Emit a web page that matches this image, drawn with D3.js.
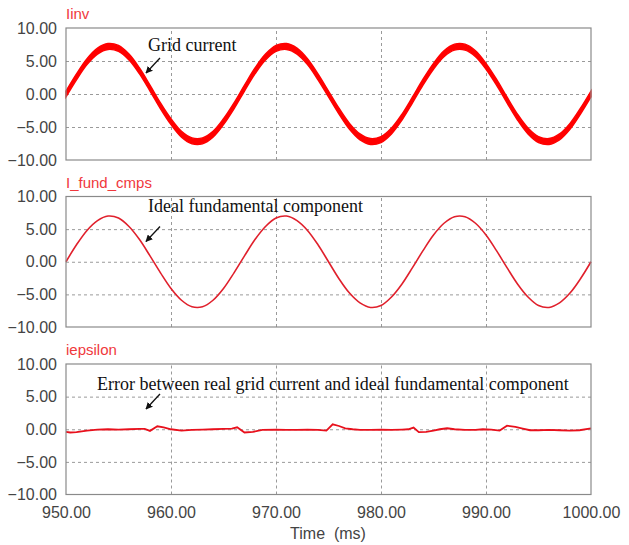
<!DOCTYPE html>
<html>
<head>
<meta charset="utf-8">
<script src="https://cdn.jsdelivr.net/npm/d3@7"></script>
<style>
  body { margin: 0; background: #fff; }
  .tick text { font-family: "Liberation Sans", Arial, sans-serif; font-size: 16px; fill: #444; }
  .grid line { stroke: #9a9a9a; stroke-dasharray: 3,3; }
  .note { font-family: "Liberation Serif", "Times New Roman", serif; font-size: 18px; fill: #111; }
  .ptitle { font-family: "Liberation Sans", Arial, sans-serif; font-size: 15px; fill: #f0383c; }
</style>
</head>
<body>
<script>
// time axis (ms), 1 ms steps for the two sine traces
const timeMs = d3.range(950, 1001, 1);

// Iinv - measured grid current (centre of the rippled band)
const iinv = [0, 2.6, 4.9, 6.5, 7.2, 6.9, 5.6, 3.5, 0.9, -1.8, -4.2, -6.1, -7.1, -7.1, -6.1, -4.2, -1.8,
  0.9, 3.5, 5.6, 6.9, 7.2, 6.5, 4.9, 2.6, 0, -2.6, -4.9, -6.5, -7.2, -6.9, -5.6, -3.5, -0.9,
  1.8, 4.2, 6.1, 7.1, 7.1, 6.1, 4.2, 1.8, -0.9, -3.5, -5.6, -6.9, -7.2, -6.5, -4.9, -2.6, 0];
const iinvRipple = 0.45;

// I_fund_cmps - ideal fundamental component
const iFund = [0, 2.6, 4.8, 6.3, 7.0, 6.7, 5.4, 3.4, 0.9, -1.7, -4.1, -5.9, -6.9, -6.9, -5.9, -4.1, -1.7,
  0.9, 3.4, 5.4, 6.7, 7.0, 6.3, 4.8, 2.6, 0, -2.6, -4.8, -6.3, -7.0, -6.7, -5.4, -3.4, -0.9,
  1.7, 4.1, 5.9, 6.9, 6.9, 5.9, 4.1, 1.7, -0.9, -3.4, -5.4, -6.7, -7.0, -6.3, -4.8, -2.6, 0];

// iepsilon - error trace
const epsTime = [950, 950.4, 951, 952, 953, 954, 955, 956, 957, 957.5, 958, 958.7, 959.3, 960, 961, 962, 963, 964, 965, 965.8, 966.3, 967, 967.8,
  968.7, 970, 971, 972, 973, 974, 974.8, 975.4, 976, 976.6, 977.3, 978, 979, 980, 981, 982, 982.6, 983.1, 983.6, 984.3, 985, 985.6,
  986.3, 987, 988, 989, 989.7, 990.5, 991.3, 992, 992.8, 993.5, 994.2, 995, 996, 997, 998, 998.9, 1000];
const iEps = [-0.4, -0.5, -0.45, -0.2, -0.05, 0, -0.05, 0, 0.05, 0.05, -0.25, 0.45, 0.3, 0, -0.2, -0.1, -0.05, 0, 0.05, 0.1, 0.3, -0.5, -0.4,
  -0.1, -0.05, -0.1, -0.1, -0.05, -0.1, -0.2, 0.75, 0.5, 0.15, 0, -0.1, -0.1, -0.05, -0.1, -0.05, 0, 0.25, -0.45, -0.4, -0.2, 0,
  0.15, 0, -0.1, -0.1, 0, -0.05, -0.2, 0.55, 0.35, 0.1, -0.15, -0.15, -0.1, -0.15, -0.2, -0.15, 0.15];

const yTicks = [-10, -5, 0, 5, 10];
const xTicks = [950, 960, 970, 980, 990, 1000];

const W = 629, H = 545;
const left = 66, right = 591;

const panels = [
  { title: "Iinv", top: 28, bottom: 160, note: "Grid current", noteX: 148, noteY: 51 },
  { title: "I_fund_cmps", top: 196.5, bottom: 327, note: "Ideal fundamental component", noteX: 148, noteY: 212 },
  { title: "iepsilon", top: 364, bottom: 494.5, note: "Error between real grid current and ideal fundamental component", noteX: 97, noteY: 390 }
];

const svg = d3.select("body").append("svg")
    .attr("width", W)
    .attr("height", H);

svg.append("defs").append("marker")
    .attr("id", "arrow")
    .attr("viewBox", "0 0 10 10")
    .attr("refX", 9).attr("refY", 5)
    .attr("markerWidth", 7).attr("markerHeight", 7)
    .attr("markerUnits", "userSpaceOnUse")
    .attr("orient", "auto")
  .append("path")
    .attr("d", "M0,0L10,5L0,10z")
    .attr("fill", "#111");

const x = d3.scaleLinear().domain([950, 1000]).range([left, right]);

panels.forEach((p, i) => {
  const y = d3.scaleLinear().domain([-10, 10]).range([p.bottom, p.top]);
  const g = svg.append("g");

  // gridlines
  g.append("g")
      .attr("class", "grid")
      .attr("transform", "translate(" + left + ",0)")
      .call(d3.axisLeft(y).tickValues([-5, 0, 5]).tickSize(-(right - left)).tickFormat(""))
      .call(s => s.select(".domain").remove());
  g.append("g")
      .attr("class", "grid")
      .attr("transform", "translate(0," + p.bottom + ")")
      .call(d3.axisBottom(x).tickValues([960, 970, 980, 990]).tickSize(-(p.bottom - p.top)).tickFormat(""))
      .call(s => s.select(".domain").remove());

  // y axis labels
  g.append("g")
      .attr("transform", "translate(" + left + ",0)")
      .call(d3.axisLeft(y).tickValues(yTicks).tickSize(0).tickPadding(9).tickFormat(d3.format(".2f")))
      .call(s => s.select(".domain").remove());

  // traces
  if (i === 0) {
    const data = timeMs.map((t, k) => ({ t, v: iinv[k] }));
    g.append("path")
        .datum(data)
        .attr("fill", "#ff0000")
        .attr("stroke", "#ff0000")
        .attr("stroke-width", 1.4)
        .attr("d", d3.area()
          .x(d => x(d.t))
          .y0(d => y(d.v - iinvRipple))
          .y1(d => y(d.v + iinvRipple))
          .curve(d3.curveCatmullRom));
  } else if (i === 1) {
    const data = timeMs.map((t, k) => ({ t, v: iFund[k] }));
    g.append("path")
        .datum(data)
        .attr("fill", "none")
        .attr("stroke", "#e0202c")
        .attr("stroke-width", 1.6)
        .attr("d", d3.line().x(d => x(d.t)).y(d => y(d.v)).curve(d3.curveCatmullRom));
  } else {
    const data = epsTime.map((t, k) => ({ t, v: iEps[k] }));
    g.append("path")
        .datum(data)
        .attr("fill", "none")
        .attr("stroke", "#e8101c")
        .attr("stroke-width", 1.8)
        .attr("d", d3.line().x(d => x(d.t)).y(d => y(d.v)).curve(d3.curveLinear));
  }

  // frame
  g.append("rect")
      .attr("x", left).attr("y", p.top)
      .attr("width", right - left).attr("height", p.bottom - p.top)
      .attr("fill", "none")
      .attr("stroke", "#8a8a8a")
      .attr("stroke-width", 1.2);

  // panel title
  g.append("text")
      .attr("class", "ptitle")
      .attr("x", left)
      .attr("y", p.top - 9)
      .text(p.title);

  // annotation + arrow
  g.append("text")
      .attr("class", "note")
      .attr("x", p.noteX)
      .attr("y", p.noteY)
      .text(p.note);
  g.append("line")
      .attr("x1", 160).attr("y1", p.top + 30)
      .attr("x2", 146).attr("y2", p.top + 45)
      .attr("stroke", "#111")
      .attr("stroke-width", 1.3)
      .attr("marker-end", "url(#arrow)");

  // time axis on the last panel
  if (i === panels.length - 1) {
    g.append("g")
        .attr("transform", "translate(0," + p.bottom + ")")
        .call(d3.axisBottom(x).tickValues(xTicks).tickSize(0).tickPadding(12).tickFormat(d3.format(".2f")))
        .call(s => s.select(".domain").remove());
    svg.append("text")
        .attr("x", 328)
        .attr("y", 539)
        .attr("text-anchor", "middle")
        .attr("font-family", "Liberation Sans, Arial, sans-serif")
        .attr("font-size", 16)
        .attr("fill", "#444")
        .attr("xml:space", "preserve")
        .style("white-space", "pre")
        .text("Time  (ms)");
  }
});
</script>
</body>
</html>
